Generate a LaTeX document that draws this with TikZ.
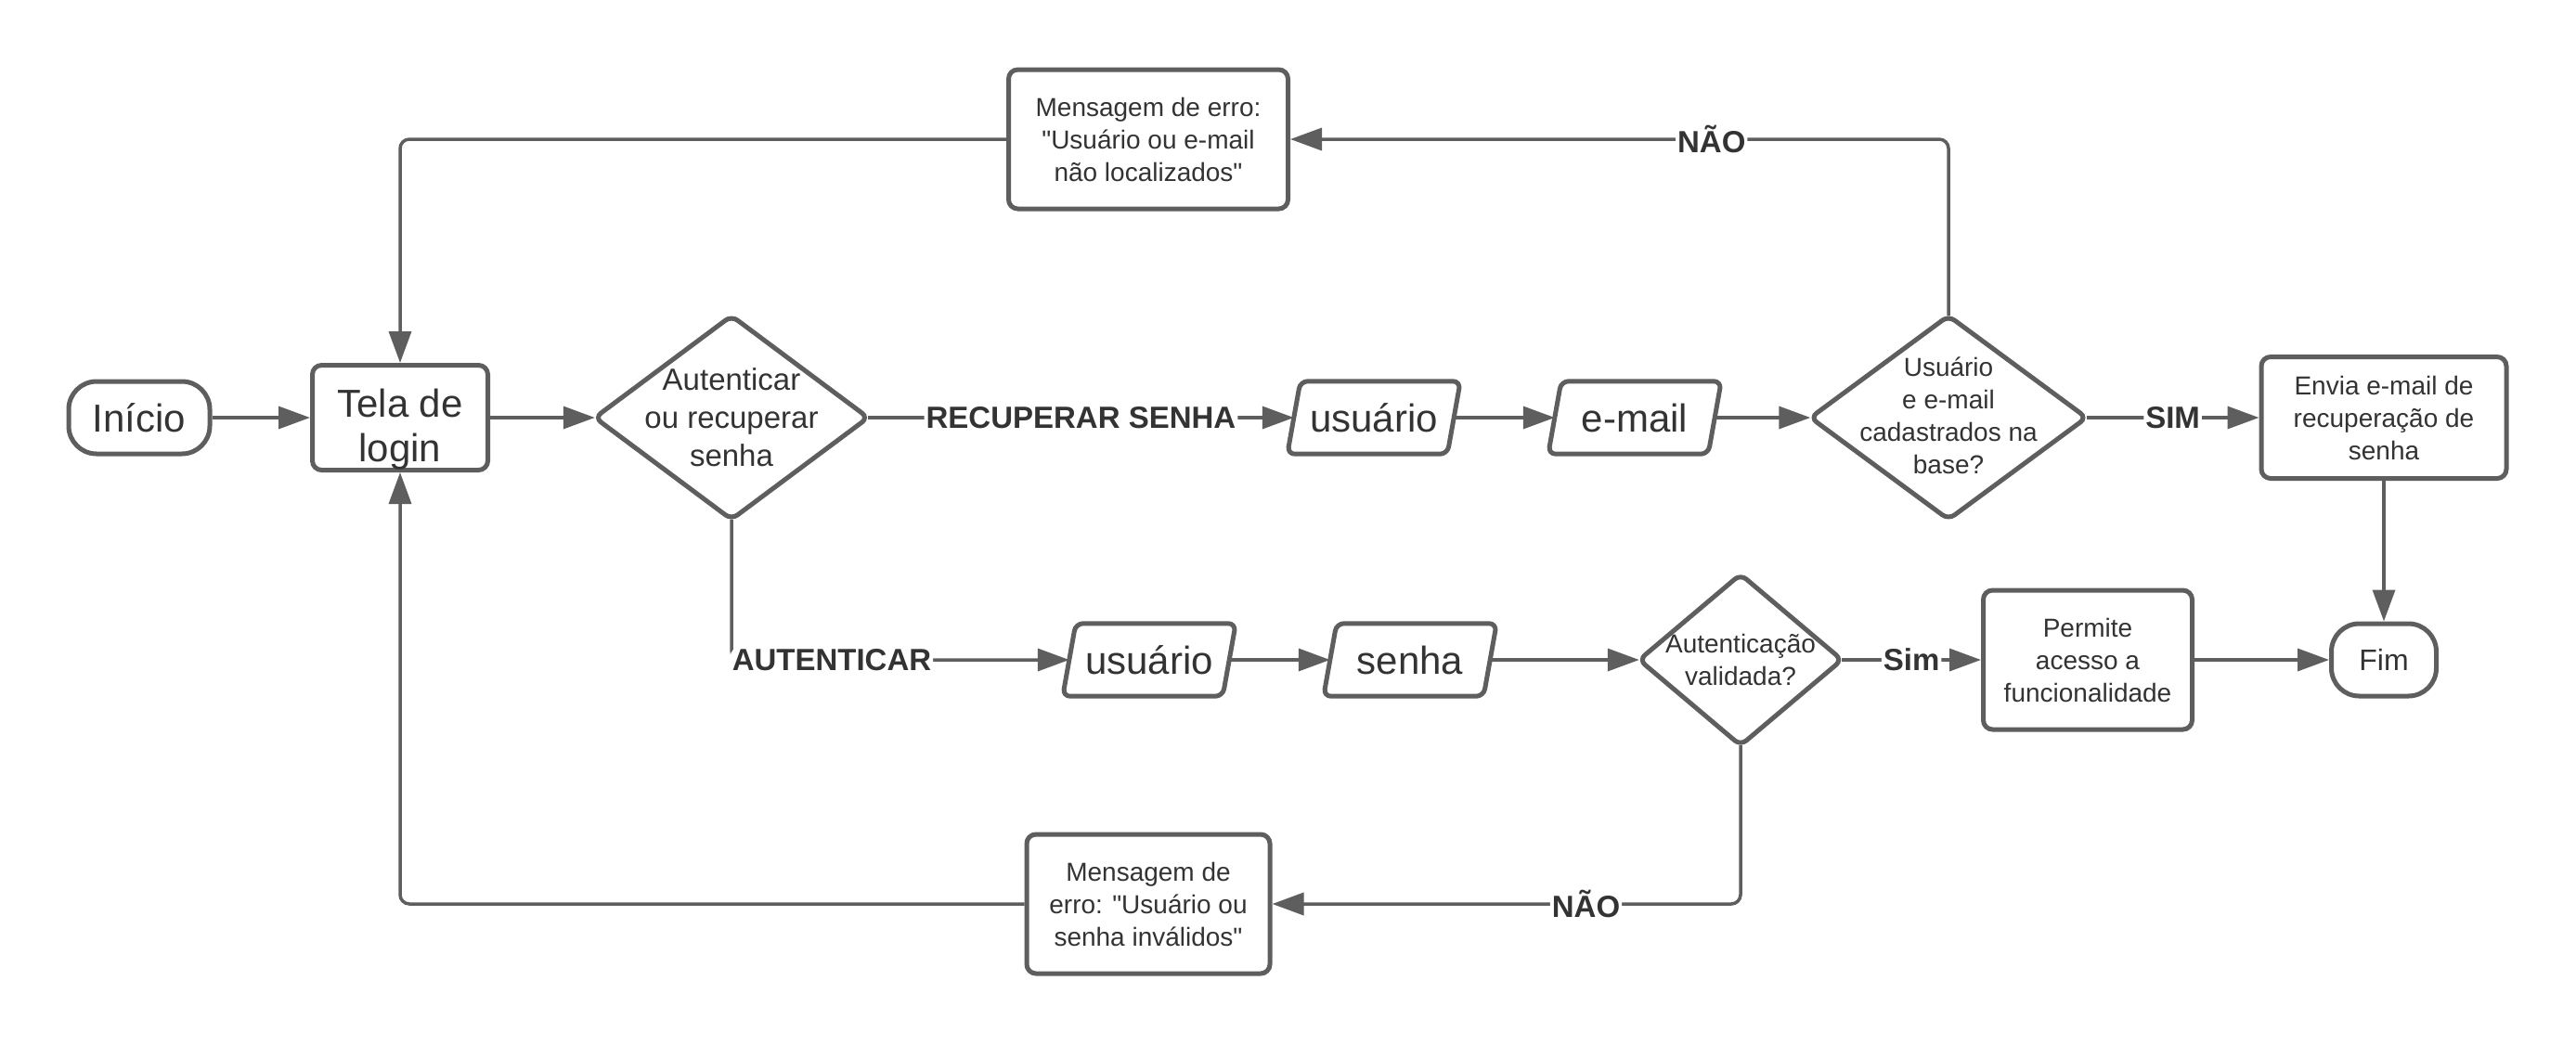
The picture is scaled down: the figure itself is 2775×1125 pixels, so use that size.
\documentclass[tikz,border=0pt]{standalone}
\usepackage{fontspec}
\setmainfont{Liberation Sans}[Ligatures=TeXOff]
\usetikzlibrary{arrows.meta,calc}
\definecolor{ln}{HTML}{5E5E5E}
\definecolor{tx}{HTML}{333333}
\pgfdeclarelayer{bg}
\pgfsetlayers{bg,main}
\begin{document}
\begin{tikzpicture}[x=1pt,y=-1pt,
  box/.style={draw=ln, line width=5pt, rounded corners=10pt, text=tx, align=center, inner sep=0pt, fill=white},
  term/.style={box, rounded corners=30pt, minimum height=78pt},
  io/.style={inner sep=0pt, minimum width=186pt, minimum height=78pt, text=tx},
  dec/.style={inner sep=0pt, text=tx, align=center},
  shapeline/.style={draw=ln, line width=5pt, rounded corners=8pt, fill=white},
  conn/.style={draw=ln, line width=3.5pt, -{Triangle[length=34pt,width=24pt]}, rounded corners=10pt},
  lbl/.style={font=\fontsize{33}{38}\selectfont\bfseries, text=tx, fill=white, inner sep=2pt},
  big/.style={font=\fontsize{42}{48}\selectfont},
  sml/.style={font=\fontsize{28}{35}\selectfont},
  med/.style={font=\fontsize{33}{41}\selectfont},
]
\useasboundingbox (0,0) rectangle (2775,1125);

% nodes
\node[term, big, minimum width=152pt] (ini) at (150,450) {Início};
\node[box, big, minimum width=189pt, minimum height=113pt] (tela) at (431,450) {};
\node[big, text=tx, align=center, inner sep=0pt] (telat) at ([yshift=-13pt]tela.center) {Tela de\\login};
\node[dec, med, minimum width=294pt, minimum height=219pt] (d1) at (788,450) {Autenticar\\ou recuperar\\senha};
\node[io, big] (u1) at (1480,450) {usuário};
\node[io, big] (em) at (1761,450) {e-mail};
\node[dec, sml, minimum width=297pt, minimum height=219pt] (d2) at (2099,448) {Usuário\\e e-mail\\cadastrados na\\base?};
\node[box, sml, minimum width=264pt, minimum height=131pt] (env) at (2568,450) {Envia e-mail de\\recuperação de\\senha};
\node[box, sml, minimum width=301pt, minimum height=150pt] (m1) at (1237,150) {Mensagem de erro:\\"Usuário ou e-mail\\não localizados"};
\node[io, big] (u2) at (1238,711) {usuário};
\node[io, big] (sn) at (1519,711) {senha};
\node[dec, sml, minimum width=218pt, minimum height=184pt] (d3) at (1875,711) {Autenticação\\validada?};
\node[box, sml, minimum width=225pt, minimum height=150pt] (perm) at (2249,711) {Permite\\acesso a\\funcionalidade};
\node[term, font=\fontsize{32}{38}\selectfont, minimum width=113pt] (fim) at (2568,711) {Fim};
\node[box, sml, minimum width=262pt, minimum height=150pt] (m2) at (1237,974) {Mensagem de\\erro: "Usuário ou\\senha inválidos"};

\begin{pgfonlayer}{bg}
\foreach \n in {u1,em,u2,sn}
  \draw[shapeline] ([xshift=14pt]\n.north west) -- (\n.north east) -- ([xshift=-14pt]\n.south east) -- (\n.south west) -- cycle;
\foreach \n in {d1,d3}
  \draw[shapeline] (\n.north) -- (\n.east) -- (\n.south) -- (\n.west) -- cycle;
\draw[shapeline] ([yshift=-2pt]d2.north) -- ([yshift=-2pt]d2.east) -- ([yshift=-2pt]d2.south) -- ([yshift=-2pt]d2.west) -- cycle;
\end{pgfonlayer}

% connectors
\draw[conn] (ini) -- (tela);
\draw[conn] (tela) -- (d1.west);
\draw[conn] (d1.east) -- node[lbl]{RECUPERAR SENHA} ([xshift=7pt]u1.west);
\draw[conn] ([xshift=-7pt]u1.east) -- ([xshift=7pt]em.west);
\draw[conn] ([xshift=-7pt]em.east) -- ([yshift=-2pt]d2.west);
\draw[conn] ([yshift=-2pt]d2.east) -- node[lbl]{SIM} (env.west);
\draw[conn] ([yshift=-2pt]d2.north) |- node[lbl,pos=0.68]{NÃO} (m1.east);
\draw[conn] (m1.west) -| (tela.north);
\draw[conn] (d1.south) |- node[lbl,pos=0.5,anchor=west,xshift=-3pt]{AUTENTICAR} ([xshift=7pt]u2.west);
\draw[conn] ([xshift=-7pt]u2.east) -- ([xshift=7pt]sn.west);
\draw[conn] ([xshift=-7pt]sn.east) -- (d3.west);
\draw[conn] (d3.east) -- node[lbl]{Sim} (perm.west);
\draw[conn] (perm) -- (fim);
\draw[conn] (env) -- (fim);
\draw[conn] (d3.south) |- node[lbl,pos=0.665]{NÃO} (m2.east);
\draw[conn] (m2.west) -| (tela.south);
\end{tikzpicture}
\end{document}
